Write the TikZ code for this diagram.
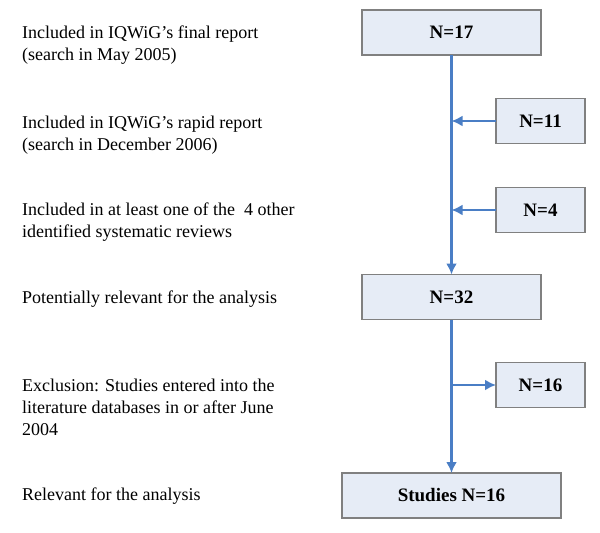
\documentclass[tikz,border=0pt]{standalone}
\usepackage{fontspec}
\setmainfont{Liberation Serif}
\usetikzlibrary{positioning,arrows.meta}
\definecolor{flowblue}{RGB}{74,126,197}
\definecolor{boxfill}{RGB}{230,236,246}
\definecolor{boxline}{RGB}{128,128,128}

\begin{document}
\begin{tikzpicture}[x=1pt,y=-1pt,>={Latex[length=11pt,width=11pt]},
	font=\fontsize{18}{21.7}\selectfont,
	countbox/.style={draw=boxline,line width=1.5pt,fill=boxfill,minimum height=45pt,outer sep=0pt,inner sep=0pt,font=\fontsize{19}{21.7}\selectfont\bfseries},
	caption/.style={anchor=base west,align=left,inner sep=0pt},
	flow/.style={->,draw=flowblue,line width=2.5pt}]
	\useasboundingbox (0,0) rectangle (600,533);
	% boxes on the right
	\node [countbox,minimum width=179pt] at (451.5,32.5) (final) {N=17};
	\node [countbox,minimum width=89pt] at (540.5,121) (rapid) {N=11};
	\node [countbox,minimum width=89pt] at (540.5,210) (other) {N=4};
	\node [countbox,minimum width=179pt] at (451.5,297) (potential) {N=32};
	\node [countbox,minimum width=89pt] at (540.5,385) (excluded) {N=16};
	\node [countbox,minimum width=219pt] at (451.5,495.5) (relevant) {Studies N=16};
	% captions on the left (base is the last line)
	\node [caption] at (22,60) (finaltext) {Included in IQWiG’s final report\\(search in May 2005)};
	\node [caption] at (22,150) (rapidtext) {Included in IQWiG’s rapid report\\(search in December 2006)};
	\node [caption] at (22,237) (othertext) {Included in at least one of the \ 4 other\\identified systematic reviews};
	\node [caption] at (22,303) (potentialtext) {Potentially relevant for the analysis};
	\node [caption] at (22,435) (excludedtext) {Exclusion: Studies entered into the\\literature databases in or after June\\2004};
	\node [caption] at (22,500) (relevanttext) {Relevant for the analysis};
	% connectors
	\draw [flow] (final) -- (potential);
	\draw [flow] (rapid.west) -- (rapid.west -| final);
	\draw [flow] (other.west) -- (other.west -| final);
	\draw [flow] (potential) -- (relevant);
	\draw [flow] (potential |- excluded) -- (excluded.west);
\end{tikzpicture}
\end{document}
